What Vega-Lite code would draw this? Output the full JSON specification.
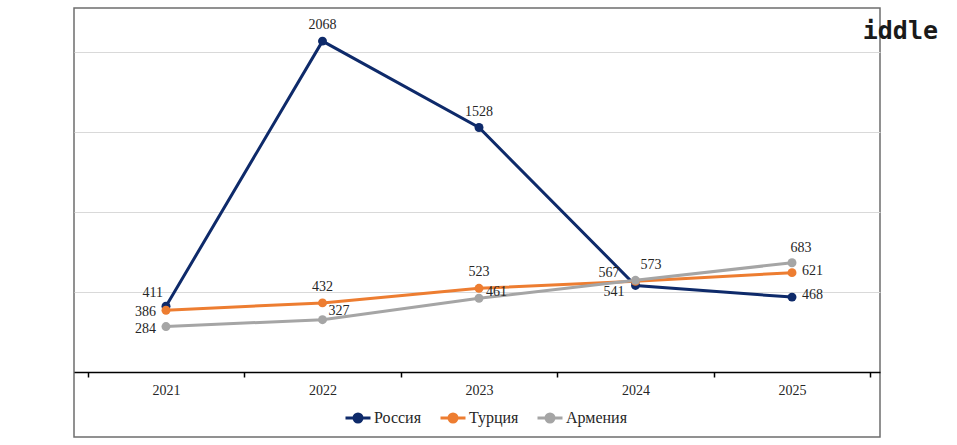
{
  "$schema": "https://vega.github.io/schema/vega-lite/v6.json",
  "autosize": {"type": "none"},
  "padding": {"left": 74, "top": 8, "right": 77, "bottom": 8},
  "width": 806,
  "height": 429,
  "background": "white",
  "title": {
    "text": "iddle",
    "orient": "top",
    "anchor": "end",
    "frame": "group",
    "font": "DejaVu Sans Mono",
    "fontSize": 25,
    "fontWeight": "bold",
    "color": "#1a1a1a",
    "baseline": "alphabetic",
    "offset": 0,
    "dx": 58,
    "dy": 56
  },
  "data": {
    "values": [
      {"year": "2021", "series": "Россия", "value": 411},
      {"year": "2022", "series": "Россия", "value": 2068},
      {"year": "2023", "series": "Россия", "value": 1528},
      {"year": "2024", "series": "Россия", "value": 541},
      {"year": "2025", "series": "Россия", "value": 468},
      {"year": "2021", "series": "Турция", "value": 386},
      {"year": "2022", "series": "Турция", "value": 432},
      {"year": "2023", "series": "Турция", "value": 523},
      {"year": "2024", "series": "Турция", "value": 567},
      {"year": "2025", "series": "Турция", "value": 621},
      {"year": "2021", "series": "Армения", "value": 284},
      {"year": "2022", "series": "Армения", "value": 327},
      {"year": "2023", "series": "Армения", "value": 461},
      {"year": "2024", "series": "Армения", "value": 573},
      {"year": "2025", "series": "Армения", "value": 683}
    ]
  },
  "encoding": {
    "x": {
      "field": "year",
      "type": "ordinal",
      "title": null,
      "scale": {"type": "band", "paddingInner": 0, "paddingOuter": 0.075, "align": 0.585},
      "axis": {
        "labelAngle": 0,
        "offset": -65,
        "tickBand": "extent",
        "tickSize": 5,
        "tickColor": "#000000",
        "tickWidth": 1.5,
        "domainColor": "#000000",
        "domainWidth": 1.5,
        "labelFont": "Liberation Serif",
        "labelFontSize": 14,
        "labelColor": "#262626",
        "labelPadding": 6,
        "grid": false
      }
    },
    "y": {
      "field": "value",
      "type": "quantitative",
      "title": null,
      "scale": {"domain": [-406.25, 2275], "nice": false, "zero": false},
      "axis": {
        "labels": false,
        "ticks": false,
        "domain": false,
        "grid": true,
        "values": [500, 1000, 1500, 2000],
        "gridColor": "#d9d9d9",
        "gridWidth": 1
      }
    }
  },
  "layer": [
    {
      "mark": {"type": "line", "strokeWidth": 3},
      "encoding": {
        "color": {
          "field": "series",
          "type": "nominal",
          "sort": null,
          "scale": {
            "domain": ["Россия", "Турция", "Армения"],
            "range": ["#0e2a6a", "#ed7d31", "#a5a5a5"]
          },
          "legend": {
            "title": null,
            "orient": "none",
            "direction": "horizontal",
            "legendX": 270,
            "legendY": 396,
            "padding": 0,
            "symbolType": "M-1,0H1M-0.32,0A0.32,0.32,0,1,0,0.32,0A0.32,0.32,0,1,0,-0.32,0",
            "symbolSize": 625,
            "symbolStrokeWidth": 3,
            "labelFont": "Liberation Serif",
            "labelFontSize": 16,
            "labelColor": "#262626",
            "labelOffset": 2,
            "columnPadding": 12,
            "encode": {
              "symbols": {"update": {"fill": {"scale": "color", "field": "value"}}}
            }
          }
        }
      }
    },
    {
      "mark": {"type": "point", "filled": true, "size": 80, "opacity": 1},
      "encoding": {
        "color": {"field": "series", "type": "nominal", "sort": null}
      }
    },
    {
      "transform": [{"filter": "(datum.series === 'Россия' || datum.series === 'Турция') && (datum.year === '2022' || datum.year === '2023')"}],
      "mark": {"type": "text", "align": "center", "dy": -16},
      "encoding": {"text": {"field": "value", "type": "quantitative"}}
    },
    {
      "transform": [{"filter": "datum.series === 'Армения' && datum.year === '2025'"}],
      "mark": {"type": "text", "align": "center", "dx": 9, "dy": -15},
      "encoding": {"text": {"field": "value", "type": "quantitative"}}
    },
    {
      "transform": [{"filter": "datum.year === '2021' && datum.series !== 'Россия'"}],
      "mark": {"type": "text", "align": "right", "dx": -10, "dy": 2},
      "encoding": {"text": {"field": "value", "type": "quantitative"}}
    },
    {
      "transform": [{"filter": "datum.year === '2021' && datum.series === 'Россия'"}],
      "mark": {"type": "text", "align": "right", "dx": -3, "dy": -13},
      "encoding": {"text": {"field": "value", "type": "quantitative"}}
    },
    {
      "transform": [{"filter": "datum.year === '2024' && datum.series === 'Турция'"}],
      "mark": {"type": "text", "align": "right", "dx": -16, "dy": -8},
      "encoding": {"text": {"field": "value", "type": "quantitative"}}
    },
    {
      "transform": [{"filter": "datum.year === '2024' && datum.series === 'Россия'"}],
      "mark": {"type": "text", "align": "right", "dx": -11, "dy": 7},
      "encoding": {"text": {"field": "value", "type": "quantitative"}}
    },
    {
      "transform": [{"filter": "datum.year === '2025' && datum.series !== 'Армения'"}],
      "mark": {"type": "text", "align": "left", "dx": 10, "dy": -2},
      "encoding": {"text": {"field": "value", "type": "quantitative"}}
    },
    {
      "transform": [{"filter": "datum.year === '2024' && datum.series === 'Армения'"}],
      "mark": {"type": "text", "align": "left", "dx": 5, "dy": -15},
      "encoding": {"text": {"field": "value", "type": "quantitative"}}
    },
    {
      "transform": [{"filter": "datum.year === '2022' && datum.series === 'Армения'"}],
      "mark": {"type": "text", "align": "left", "dx": 6, "dy": -9},
      "encoding": {"text": {"field": "value", "type": "quantitative"}}
    },
    {
      "transform": [{"filter": "datum.year === '2023' && datum.series === 'Армения'"}],
      "mark": {"type": "text", "align": "left", "dx": 7, "dy": -6},
      "encoding": {"text": {"field": "value", "type": "quantitative"}}
    }
  ],
  "config": {
    "view": {"stroke": "#6e6e6e", "strokeWidth": 1.5},
    "text": {"font": "Liberation Serif", "fontSize": 14, "color": "#262626", "baseline": "middle"}
  }
}
